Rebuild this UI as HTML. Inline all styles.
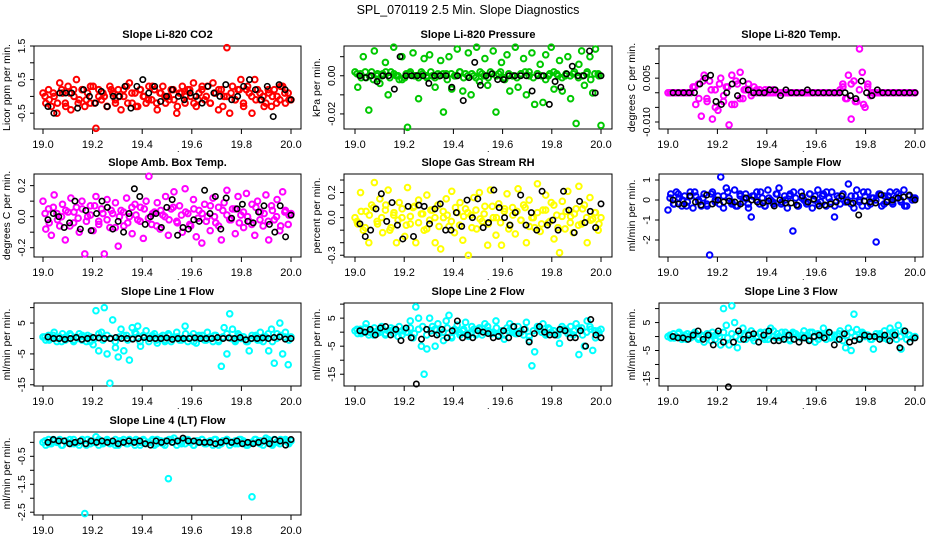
<!DOCTYPE html>
<html><head><meta charset="utf-8"><style>
html,body{margin:0;padding:0;background:#fff;}
svg{display:block;font-family:"Liberation Sans",Arial,sans-serif;}
</style></head><body>
<svg id="chart" width="936" height="540" viewBox="0 0 936 540">
<text x="468" y="14" text-anchor="middle" font-size="12.5">SPL_070119  2.5 Min. Slope Diagnostics</text>
</svg>
<script>
// ----- data -----
const titles = ["Slope Li-820 CO2","Slope Li-820 Pressure","Slope Li-820 Temp.","Slope Amb. Box Temp.","Slope Gas Stream RH","Slope Sample Flow","Slope Line 1 Flow","Slope Line 2 Flow","Slope Line 3 Flow","Slope Line 4 (LT) Flow"];
const yLabels = ["Licor ppm per min.","kPa per min.","degrees C per min.","degrees C per min.","percent per min.","ml/min per min.","ml/min per min.","ml/min per min.","ml/min per min.","ml/min per min."];
const colors = ["#ff0000","#00c800","#ff00ff","#ff00ff","#ffff00","#0000ff","#00ffff","#00ffff","#00ffff","#00ffff"];
const xTicks = [19.0,19.2,19.4,19.6,19.8,20.0];
const xTickLabels = ["19.0","19.2","19.4","19.6","19.8","20.0"];
const yRanges = [[-0.97,1.5],[-0.0279,0.0156],[-0.0124,0.016],[-0.26,0.275],[-0.314,0.348],[-2.85,1.3],[-15.4,11.5],[-19.2,10.4],[-17.7,12],[-2.6,0.37]];
const yTicks = [[-0.5,0,0.5,1,1.5],[-0.02,-0.01,0,0.01],[-0.01,-0.005,0,0.005,0.01,0.015],[-0.2,-0.1,0,0.1,0.2],[-0.3,-0.2,-0.1,0,0.1,0.2,0.3],[-2,-1,0,1],[-15,-10,-5,0,5,10],[-15,-10,-5,0,5,10],[-15,-10,-5,0,5,10],[-2.5,-2,-1.5,-1,-0.5,0]];
const yTickLabels = [["-0.5","","0.5","","1.5"],["-0.02","","0.00",""],["-0.010","","","0.005","",""],["-0.2","","0.0","","0.2"],["-0.3","","","0.0","","0.2",""],["-2","-1","0","1"],["-15","","-5","","5",""],["-15","","-5","","5",""],["-15","","-5","","5",""],["-2.5","","-1.5","","-0.5",""]];

const co2Vals = [0.1,-0.2,0.2,-0.3,0.0,-0.5,0.4,0.1,-0.2,0.3,-0.4,0.2,0.5,-0.1,0.2,-0.3,0.1,-0.2,0.3,-0.95,0.2,-0.1,0.0,-0.3,0.3,0.1,-0.2,0.2,-0.4,0.0,0.3,0.4,-0.2,0.1,-0.3,0.2,0.0,-0.2,0.3,-0.1,0.2,-0.4,0.1,0.3,-0.2,0.0,0.2,-0.1,-0.5,0.1,0.3,-0.2,0.2,0.0,0.4,-0.3,0.1,0.2,-0.1,0.3,-0.2,0.4,0.1,-0.4,0.2,0.0,1.45,-0.5,0.3,-0.1,0.2,0.5,-0.3,0.2,0.1,-0.5,0.5,0.2,-0.1,0.0,-0.2,0.1,-0.3,0.2,0.0,-0.1,0.3,-0.2,0.1,-0.1];
const co2Band = [0.0,-0.1,0.1,-0.2,0.2,-0.3,0.1,0.0,-0.2,0.2,-0.1,0.3,-0.2,0.0,0.1,-0.3,0.2,-0.1,0.0,0.2,-0.2,0.1,-0.3,0.2,0.0,-0.1,0.3,-0.2,0.1,0.0,-0.1,0.2,-0.3,0.1,0.0,0.2,-0.2,-0.1,0.3,0.0,-0.2,0.1,0.2,-0.3,0.0,0.1,-0.1,0.2,-0.2,0.3,0.0,-0.1,0.1,-0.3,0.2,0.0,-0.2,0.3,0.1,-0.1];
const co2Black = [-0.3,-0.5,0.1,0.1,0.1,-0.35,0.2,0.0,-0.2,0.15,-0.3,0.0,0.0,0.3,-0.35,0.3,0.5,0.1,0.3,-0.15,0.0,0.2,0.0,-0.1,0.1,0.0,-0.2,0.3,0.1,0.0,0.35,-0.1,0.0,0.3,0.5,0.2,-0.1,0.3,-0.6,0.35,0.2,-0.1];
const presVals = [0.002,-0.006,0.001,0.010,-0.001,-0.018,0.002,0.013,0.000,-0.004,0.001,0.007,-0.010,0.002,0.015,0.000,-0.002,0.010,-0.001,-0.027,0.001,0.012,0.000,-0.012,0.002,0.009,-0.001,0.011,0.000,-0.006,0.001,0.008,-0.019,0.001,0.010,-0.007,0.000,0.014,0.002,-0.008,0.001,0.012,-0.010,0.000,0.015,-0.003,0.001,0.009,-0.005,0.002,0.013,-0.019,0.001,0.007,-0.001,0.011,-0.008,0.000,0.015,-0.006,0.001,0.009,-0.010,0.002,0.012,-0.015,0.001,0.006,-0.014,0.011,0.000,0.015,-0.007,0.001,0.008,-0.008,0.000,0.010,-0.012,0.001,-0.025,0.006,0.013,-0.005,0.002,0.010,-0.009,0.014,0.001,-0.026];
const presBand = [0.001,-0.001,0.002,0.000,-0.002,0.001,0.000,0.002,-0.001,0.001,0.000,-0.002,0.001,0.002,0.000,-0.001,0.001,0.000,0.002,-0.001,0.000,0.001,-0.002,0.001,0.000,0.002,-0.001,0.000,0.001,-0.001,0.002,0.000,-0.001,0.001,0.000,0.002,-0.002,0.001,0.000,-0.001,0.001,0.002,0.000,-0.001,0.001,0.000,-0.002,0.001,0.002,0.000,-0.001,0.001,0.000,0.002,-0.001,0.000,0.001,-0.002,0.001,0.000];
const presBlack = [0.000,-0.001,0.000,-0.003,0.000,0.000,-0.007,0.010,0.000,0.000,0.000,0.000,-0.004,0.000,0.000,0.000,-0.006,0.000,-0.013,-0.001,0.007,-0.005,0.000,0.001,-0.002,-0.002,0.000,0.000,0.000,0.000,-0.008,0.000,0.000,-0.015,-0.003,-0.006,0.001,0.005,0.000,0.000,0.013,-0.009,0.000];
const tempVals = [0,0,0,0,0,0,0,0,0,0.002,-0.004,0.003,-0.008,0.006,-0.002,0.004,-0.009,0.001,-0.006,0.005,-0.003,0.002,-0.011,0.006,-0.004,0.003,0.007,-0.002,0.001,0.003,-0.001,0.002,0,0.001,0,0.001,0,0,0.001,0,0,0,0,0,0,0,0,0,0,0,0,0,0,0,0,0,0,0,0,0,0,0,0.001,0.003,-0.002,0.006,-0.009,0.004,-0.003,0.015,0.007,-0.005,0.003,-0.001,0,0,0,0,0,0,0,0,0,0,0,0,0,0,0,0];
const tempBand = [0,0,0,0,0,0,0.002,-0.002,0.004,-0.003,0.001,-0.005,0.003,-0.001,0.002,-0.004,0.004,-0.002,0.001,0.001,0,0.001,0,0,0.001,0,0,0,0,0,0,0,0,0,0,0,0,0,0,0,0,0,0.002,-0.002,0.003,-0.003,0.001,-0.004,0.002,0,0,0,0,0,0,0,0,0,0,0];
const tempBlack = [0,0,0,0,0,0.003,0.005,0.006,-0.003,-0.004,0,0.003,-0.001,0.004,0.001,0,0,0,0.001,0.001,-0.001,0.001,0,0,0,0.001,0,0,0,0,0,0,0,-0.001,-0.002,0.004,0,-0.001,0.001,0,0,0,0,0,0,0];
const ambVals = [0.1,-0.08,0.05,-0.12,0.14,0.02,-0.06,0.08,-0.15,0.03,0.12,-0.04,0.06,-0.1,0.1,-0.24,0.0,0.07,-0.09,0.13,-0.03,0.05,-0.24,0.11,-0.07,0.02,0.09,-0.19,0.04,-0.06,0.12,0.0,-0.11,0.08,-0.02,0.06,-0.14,0.1,0.26,-0.05,0.03,0.09,-0.08,0.01,0.13,-0.12,0.05,0.16,-0.03,0.07,-0.1,0.18,0.02,-0.06,0.11,-0.13,0.04,-0.17,0.08,0.0,-0.09,0.12,-0.04,0.06,-0.15,0.09,0.17,-0.02,0.05,-0.11,0.13,0.01,-0.07,0.15,-0.03,0.08,-0.12,0.1,0.03,-0.06,0.14,-0.15,0.07,-0.02,0.11,-0.09,0.16,0.04,-0.05,0.02];
const ambBand = [0.02,-0.04,0.06,-0.02,0.0,0.04,-0.06,0.03,-0.01,0.05,-0.03,0.01,0.07,-0.05,0.02,-0.02,0.04,-0.07,0.0,0.03,-0.04,0.06,0.01,-0.03,0.05,-0.01,0.02,-0.06,0.04,0.0,-0.02,0.06,-0.04,0.01,0.03,-0.05,0.05,-0.01,0.02,-0.03,0.07,0.0,-0.06,0.04,0.01,-0.02,0.05,-0.04,0.03,0.0,-0.05,0.06,-0.02,0.02,-0.03,0.04,0.0,-0.06,0.03,0.01];
const ambBlack = [-0.02,0.02,0.0,-0.07,-0.04,0.1,-0.08,0.04,-0.09,0.02,0.1,0.06,-0.08,-0.03,-0.1,0.02,0.18,0.13,-0.05,0.0,0.02,-0.07,0.06,0.11,-0.12,-0.07,-0.08,-0.02,-0.03,0.17,0.02,0.13,-0.08,0.12,-0.01,0.05,0.08,-0.03,-0.04,0.03,0.07,-0.05,-0.1,0.07,-0.13,0.01];
const rhVals = [0.0,-0.05,0.2,-0.1,0.05,-0.2,0.1,0.28,-0.03,0.15,-0.12,0.06,0.22,-0.08,0.02,-0.2,0.12,0.0,-0.15,0.24,-0.05,0.08,-0.2,0.14,0.03,-0.1,0.18,-0.02,0.06,-0.2,0.1,-0.25,0.0,0.15,-0.07,0.21,-0.12,0.04,0.12,-0.18,0.07,-0.3,0.02,0.16,-0.09,0.2,-0.03,0.09,-0.22,0.22,0.0,-0.14,0.11,-0.22,0.05,0.19,-0.06,0.08,-0.13,0.23,-0.02,0.1,-0.2,0.14,0.0,-0.08,0.27,-0.11,0.06,0.18,-0.04,0.12,-0.17,0.02,-0.28,0.13,-0.09,0.21,0.01,-0.12,0.07,0.25,-0.05,0.1,-0.2,0.16,-0.01,0.04,-0.1,0.0];
const rhBand = [-0.03,0.05,-0.08,0.02,0.08,-0.05,0.0,0.1,-0.1,0.04,-0.02,0.07,-0.06,0.01,0.09,-0.04,0.03,-0.09,0.06,0.0,-0.07,0.05,0.02,-0.03,0.08,-0.06,0.01,0.04,-0.08,0.06,-0.01,0.03,-0.05,0.09,0.0,-0.04,0.07,-0.09,0.02,0.05,-0.02,0.08,-0.07,0.0,0.04,-0.05,0.06,-0.03,0.1,-0.08,0.01,0.05,-0.04,0.03,-0.06,0.07,0.0,-0.02,0.04,-0.05];
const rhBlack = [-0.05,-0.15,-0.1,0.07,0.19,-0.03,0.12,-0.06,-0.17,0.09,-0.15,0.1,0.09,-0.05,0.07,0.11,-0.1,-0.1,0.04,-0.07,0.14,0.0,0.15,-0.08,-0.04,0.22,0.08,0.0,-0.06,0.04,0.18,-0.06,0.04,-0.1,0.21,-0.06,-0.02,-0.1,0.21,0.06,-0.12,0.13,-0.04,0.05,-0.08,0.11];
const flowVals = [-0.5,0.3,-0.2,0.4,0.1,-0.3,0.2,-0.1,0.4,-0.4,0.2,0.0,-0.3,0.3,-0.2,-2.75,0.4,-0.1,0.2,1.15,-0.4,0.6,0.1,-0.2,0.5,-0.3,0.2,-0.1,0.3,-0.4,-0.85,0.2,0.4,-0.2,0.1,-0.3,0.5,0.0,-0.2,0.3,0.6,-0.1,0.2,-0.4,0.3,-1.55,0.1,-0.3,0.4,0.0,-0.2,0.3,-0.4,0.2,0.5,-0.1,0.3,-0.3,0.1,0.4,-0.85,0.2,-0.2,0.3,-0.1,0.8,0.2,-0.4,0.5,0.0,-0.3,0.2,0.4,-0.2,0.1,-2.1,0.3,-0.3,0.2,0.0,0.4,-0.2,0.1,0.3,-0.1,0.5,-0.3,0.2,0.0,0.1];
const flowBand = [0.1,-0.2,0.3,0.0,-0.3,0.2,0.4,-0.1,0.1,-0.3,0.3,0.0,-0.2,0.2,0.4,-0.1,-0.3,0.3,0.1,-0.2,0.2,0.0,0.4,-0.3,0.1,-0.1,0.3,-0.2,0.0,0.2,0.4,-0.3,0.1,-0.1,0.3,0.0,-0.2,0.2,0.4,-0.1,-0.3,0.1,0.3,0.0,-0.2,0.2,-0.1,0.4,-0.3,0.1,0.0,0.3,-0.2,0.2,-0.1,0.4,0.0,-0.3,0.2,0.1];
const flowBlack = [0.0,-0.2,-0.2,0.2,-0.1,-0.25,0.25,-0.2,0.0,-0.1,-0.05,-0.1,-0.2,0.1,0.0,-0.1,-0.15,-0.05,-0.3,0.0,-0.15,-0.15,-0.25,0.2,-0.1,0.05,-0.3,-0.25,-0.2,-0.1,0.2,-0.1,-0.15,-0.75,-0.05,-0.1,-0.15,0.25,-0.1,0.0,0.1,0.15,0.25,0.0];
const line1Vals = [0.5,-0.5,1.0,0.0,2.0,-1.0,0.5,1.5,-0.5,0.0,1.0,-1.0,0.5,1.5,-0.5,0.5,1.0,-1.0,-2.0,9.0,-4.0,2.0,10.0,-5.0,-14.5,6.0,-3.0,-6.0,3.0,-4.0,1.0,-7.0,3.5,2.0,4.0,-2.5,1.0,2.5,-1.0,0.5,1.5,-1.5,0.0,1.0,-0.5,1.5,-1.0,0.5,2.0,-0.5,0.0,4.0,-1.0,0.5,1.5,-1.5,1.0,0.0,-0.5,2.0,0.5,-1.0,1.0,-0.5,-9.0,3.5,-5.0,8.0,3.0,-1.0,1.5,0.0,0.5,-1.0,-4.0,1.0,0.5,-0.5,2.0,-1.0,0.5,-4.0,3.0,-8.0,1.5,5.0,-5.0,2.0,-8.5,0.5];
const line1Band = [0.5,-0.5,1.0,0.0,-1.0,0.5,1.5,-0.5,0.0,1.0,-1.0,0.5,0.0,1.5,-0.5,1.0,0.0,-1.0,0.5,1.0,-0.5,0.0,1.5,-1.0,0.5,0.0,1.0,-0.5,0.5,-1.0,1.0,0.0,0.5,-0.5,1.5,0.0,-1.0,0.5,1.0,-0.5,0.0,1.0,-1.0,0.5,1.5,0.0,-0.5,1.0,0.5,-1.0,0.0,1.0,-0.5,0.5,1.5,-1.0,0.0,1.0,0.5,-0.5];
const line1Black = [0.5,0.0,0.0,-0.3,0.0,0.3,-0.3,0.0,0.3,0.2,0.0,0.0,0.3,0.0,0.0,-0.2,0.0,0.3,0.0,0.0,0.0,0.2,-0.3,0.0,0.0,0.0,0.2,0.0,0.0,0.0,0.3,0.0,0.2,0.0,0.3,-0.4,0.0,0.0,0.2,0.0,0.3,0.5,-0.2,0.0];
const line2Vals = [0.5,-0.5,1.0,0.0,3.0,-1.0,0.5,1.5,-0.5,0.0,1.0,-1.0,0.5,1.5,-0.5,0.5,2.0,-1.0,1.0,0.0,4.0,-2.0,9.0,5.0,-5.0,-15.0,-6.0,5.0,2.0,-5.0,3.0,1.0,-3.0,4.0,6.0,-2.0,1.0,2.5,-1.0,0.5,3.5,-1.5,0.0,1.0,-0.5,1.5,-1.0,3.0,2.0,-0.5,0.0,4.0,-1.0,0.5,-2.5,1.5,3.0,0.0,-0.5,2.0,0.5,-1.0,3.5,-3.0,-12.0,-7.0,2.0,1.0,3.0,-1.0,1.5,0.0,0.5,-1.0,-4.0,1.0,0.5,-0.5,2.0,-1.0,3.0,-8.0,1.5,-5.0,4.0,2.0,-6.5,-2.0,0.5,1.0];
const line2Band = [1.0,-0.5,1.5,0.0,-1.0,0.5,2.0,-0.5,0.5,1.0,-1.5,0.5,0.0,1.5,-0.5,1.0,2.0,-1.0,0.5,1.0,-0.5,0.0,1.5,-1.5,0.5,0.0,1.0,-0.5,2.0,-1.0,1.0,0.0,0.5,-0.5,1.5,0.0,-1.0,0.5,2.0,-0.5,0.0,1.0,-1.5,0.5,1.5,0.0,-0.5,1.0,0.5,-1.0,2.0,1.0,-0.5,0.5,1.5,-1.0,0.0,1.0,0.5,-0.5];
const line2Black = [0.5,0.0,1.0,-1.0,1.5,2.0,-1.0,1.0,-3.0,1.5,-2.0,-18.5,-2.5,1.0,-0.5,-1.0,1.0,-2.0,0.5,4.0,-2.0,-1.0,-2.0,0.5,0.0,-0.5,-2.0,-1.5,0.5,-2.0,2.0,-0.5,1.0,-3.5,-0.5,2.0,0.0,-1.0,-1.0,1.0,0.5,-2.0,-2.0,0.5,-5.0,4.5,-1.0,-2.0];
const line3Vals = [0.0,-0.5,1.0,0.0,1.5,-1.0,0.5,1.0,-0.5,0.0,1.0,-1.0,0.5,-2.0,-0.5,0.5,1.5,-1.0,1.0,-3.0,10.0,4.0,-3.0,11.0,5.0,-4.0,1.0,3.0,-1.0,0.5,2.0,-1.5,0.0,1.0,-0.5,1.5,-1.0,3.0,2.0,-0.5,0.0,1.5,-1.0,0.5,-1.5,1.5,1.0,0.0,-0.5,2.0,0.5,-1.0,1.5,-2.0,1.0,0.0,3.0,-1.0,1.5,0.0,0.5,-1.0,2.0,1.0,-4.0,3.0,-5.0,8.0,2.5,-1.0,1.5,0.0,0.5,-1.0,-4.5,1.0,0.5,-0.5,2.0,-1.0,3.0,1.0,1.5,4.0,-4.5,2.0,-1.0,0.5,-0.5,0.0];
const line3Band = [0.5,-0.5,1.0,0.0,-1.0,0.5,1.5,-0.5,0.0,1.0,-1.5,0.5,0.0,1.5,-0.5,1.0,0.0,-1.0,0.5,1.0,-0.5,0.0,1.5,-1.0,0.5,0.0,1.0,-0.5,1.5,-1.0,1.0,0.0,0.5,-0.5,1.5,0.0,-1.0,0.5,1.0,-0.5,0.0,1.0,-1.5,0.5,1.5,0.0,-0.5,1.0,0.5,-1.0,0.0,1.0,-0.5,0.5,1.5,-1.0,0.0,1.0,0.5,-0.5];
const line3Black = [0.0,-0.5,-0.5,-1.0,0.5,2.0,-1.0,0.5,-3.0,2.0,-2.0,-18.0,-2.0,2.0,-1.0,0.5,1.0,-2.0,0.5,2.0,-1.5,-1.5,-1.0,0.5,-1.0,-2.0,-0.5,-1.5,0.0,0.5,-0.5,1.5,-3.0,-1.0,1.0,-2.0,-1.5,-1.0,0.5,0.0,0.0,-1.0,0.5,-1.5,0.5,-4.0,2.0,-2.0,-0.5];
const line4Vals = [0.0,-0.1,0.1,-0.05,0.05,0.0,0.1,-0.1,0.05,0.0,-0.05,0.1,0.0,-0.1,0.05,-2.55,0.1,-0.05,0.0,0.2,-0.1,0.05,0.0,0.1,-0.05,0.0,0.1,-0.1,0.05,0.0,-0.05,0.1,0.0,-0.1,0.05,0.0,0.1,-0.05,0.0,0.05,-0.1,0.1,0.0,-0.05,0.05,-1.3,0.1,0.15,-0.1,0.0,0.05,-0.05,0.1,0.0,-0.1,0.05,0.0,0.1,-0.05,0.0,0.05,-0.1,0.1,0.0,-0.05,0.05,0.1,-0.1,0.0,0.05,-0.05,0.1,0.0,-0.1,-0.05,-1.95,0.1,0.0,0.05,-0.1,0.15,0.0,-0.05,0.1,0.0,-0.05,0.05,0.1,0.0,0.05];
const line4Band = [0.05,-0.05,0.1,0.0,-0.1,0.05,0.1,-0.05,0.0,0.1,-0.1,0.05,0.0,0.1,-0.05,0.05,0.0,-0.1,0.05,0.1,-0.05,0.0,0.1,-0.1,0.05,0.0,0.1,-0.05,0.05,-0.1,0.1,0.0,0.05,-0.05,0.1,0.0,-0.1,0.05,0.1,-0.05,0.0,0.1,-0.1,0.05,0.1,0.0,-0.05,0.1,0.05,-0.1,0.0,0.1,-0.05,0.05,0.1,-0.1,0.0,0.1,0.05,-0.05];
const line4Black = [0.0,0.1,0.05,0.05,-0.05,0.0,0.05,-0.05,0.05,0.0,0.05,0.0,0.05,-0.05,0.0,0.05,0.0,0.05,-0.05,-0.1,0.05,0.0,0.05,0.0,0.05,0.15,0.05,0.05,0.0,0.0,0.0,-0.05,0.0,0.05,0.0,0.05,-0.05,0.0,-0.05,0.0,0.05,-0.05,0.1,0.05,-0.1,0.1];

const colorSeries = [co2Vals,presVals,tempVals,ambVals,rhVals,flowVals,line1Vals,line2Vals,line3Vals,line4Vals];
const bandSeries = [co2Band,presBand,tempBand,ambBand,rhBand,flowBand,line1Band,line2Band,line3Band,line4Band];
const blackSeries = [co2Black,presBlack,tempBlack,ambBlack,rhBlack,flowBlack,line1Black,line2Black,line3Black,line4Black];

// ----- layout -----
const NS = "http://www.w3.org/2000/svg";
const svg = document.getElementById('chart');
const cols = [{b0:34,b1:301,x19:43,x20:291},{b0:344,b1:612,x19:355,x20:601},{b0:659,b1:923,x19:668,x20:915}];
const rowTops = [46,174,303,432];
const boxH = 83;
function mk(tag, attrs, parent){const e=document.createElementNS(NS,tag);for(const k in attrs)e.setAttribute(k,attrs[k]);(parent||svg).appendChild(e);return e;}

for (let p=0;p<titles.length;p++){
  const c = cols[p%3], top = rowTops[Math.floor(p/3)], bot = top+boxH;
  const g = mk('g',{});
  
  
  const xs = v => c.x19 + (v-19)*(c.x20-c.x19);
  const [ymin,ymax] = yRanges[p];
  const ys = v => bot - (v-ymin)/(ymax-ymin)*boxH;
  const t = mk('text',{x:(c.b0+c.b1)/2,y:top-8,'text-anchor':'middle','font-size':'11','font-weight':'bold'},g);
  t.textContent = titles[p];
  
  
  const box = mk('rect',{x:c.b0,y:top,width:c.b1-c.b0,height:boxH,fill:'none',stroke:'#000','stroke-width':1},g);
  
  
  xTicks.forEach((v,i)=>{
    const x = xs(v);
    const tk = mk('line',{x1:x,x2:x,y1:bot,y2:bot+5,stroke:'#000'},g);
    
    
    const lb = mk('text',{x:x,y:bot+19,'text-anchor':'middle','font-size':'11'},g);
    lb.textContent = xTickLabels[i];
    
    
  });
  if (p<9){
    const d = mk('text',{x:c.b0+143,y:bot+23,'font-size':'9'},g);
    d.textContent = '.';
    
    
  }
  yTicks[p].forEach((v,i)=>{
    const y = ys(v);
    const tk = mk('line',{x1:c.b0-4,x2:c.b0,y1:y,y2:y,stroke:'#000'},g);
    
    
    if (yTickLabels[p][i]){
      const lx = c.b0-9;
      const lb = mk('text',{x:lx,y:y,'text-anchor':'middle','font-size':'10.5',transform:`rotate(-90 ${lx} ${y})`},g);
      lb.textContent = yTickLabels[p][i];
      
      
    }
  });
  const yl = c.b0-24, ym = top+boxH/2;
  const ylab = mk('text',{x:yl,y:ym,'text-anchor':'middle','font-size':'10.5',transform:`rotate(-90 ${yl} ${ym})`},g);
  ylab.textContent = yLabels[p];
  
  
  // dense band points
  const bd = bandSeries[p];
  bd.forEach((v,i)=>{
    const x = 19 + (i+0.5)/bd.length;
    const pt = mk('circle',{cx:xs(x),cy:ys(v),r:2.8,fill:'none',stroke:colors[p],'stroke-width':2},g);
    
    
  });
  const cv = colorSeries[p];
  cv.forEach((v,i)=>{
    const x = 19 + i/(cv.length-1);
    const pt = mk('circle',{cx:xs(x),cy:ys(v),r:2.8,fill:'none',stroke:colors[p],'stroke-width':2},g);
    
    
  });
  const bv = blackSeries[p];
  bv.forEach((v,i)=>{
    const x = 19.02 + 0.98*i/(bv.length-1);
    const pt = mk('circle',{cx:xs(x),cy:ys(v),r:2.7,fill:'none',stroke:'#000','stroke-width':1.6},g);
    
    
  });
}
</script>
</body></html>
